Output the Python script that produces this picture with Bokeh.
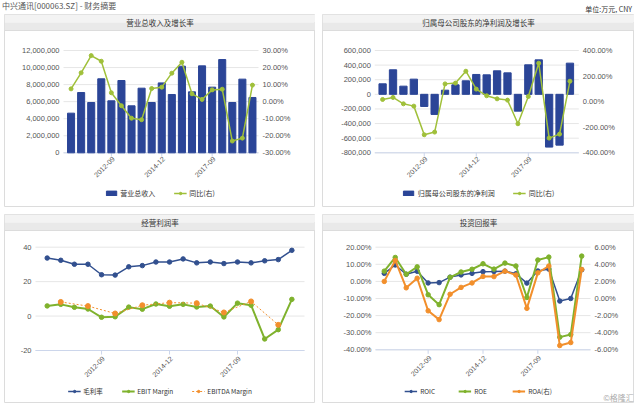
import math
import numpy as np
from bokeh.plotting import figure
from bokeh.models import Range1d, Legend, LegendItem, Div, ColumnDataSource, Spacer
from bokeh.layouts import column, row
from bokeh.embed import file_html
from bokeh.resources import INLINE
from bokeh.core.properties import value

# ---------------- data ----------------
periods = ["2010-09", "2010-12", "2011-09", "2011-12", "2012-09", "2012-12", "2013-09",
           "2013-12", "2014-09", "2014-12", "2015-09", "2015-12", "2016-09", "2016-12",
           "2017-09", "2017-12", "2018-09", "2018-12", "2019-09"]
shown_labels = ["2012-09", "2014-12", "2017-09"]

revenue = [4650000, 7070000, 5900000, 8680000, 6100000, 8480000, 5510000, 7580000,
           5900000, 8200000, 6840000, 10160000, 7150000, 10200000, 7700000, 10940000,
           5900000, 8640000, 6490000]
revenue_yoy = [7.5, 16.9, 27.0, 23.7, 5.2, -2.4, -9.7, -10.6, 7.7, 8.5, 16.7, 23.1,
               4.6, 1.3, 6.9, 7.3, -23.1, -21.4, 9.7]

net_profit = [144000, 336000, 112000, 208000, -166000, -275000, 57000, 130000, 185000,
              272000, 267000, 322000, 294000, -230000, 404000, 472000, -722000, -695000,
              427000]
profit_yoy = [17, 33, -17, -35, -259, -238, 139, 145, 238, 98, 46, 22, 12, -173, 40,
              301, -285, -254, 160]

gross_margin = [33.7, 32.4, 30.1, 30.1, 24.0, 23.8, 28.6, 29.3, 31.4, 31.4, 33.2, 30.9,
                31.4, 30.5, 31.4, 30.9, 32.1, 32.8, 38.2]
ebit_margin = [5.9, 6.8, 5.1, 4.1, -0.7, -0.4, 5.2, 4.0, 7.0, 5.7, 6.8, 5.3, 5.8, -0.5,
               7.5, 6.3, -13.3, -7.9, 9.7]
ebitda_margin = [None, 8.2, None, 5.8, None, 1.5, None, 6.3, None, 7.8, None, 7.5, None,
                 2.1, None, 8.5, None, -5.1, None]

roic = [4.7, 9.6, 4.2, 5.9, -0.9, -0.7, 2.5, 3.8, 4.7, 5.7, 5.8, 6.0, 4.5, -1.0, 6.1,
        7.2, -11.5, -10.0, 6.8]
roe = [6.0, 14.0, 4.2, 8.5, -7.8, -13.6, 2.4, 5.5, 7.1, 10.3, 7.2, 10.7, 9.0, -9.4,
       12.5, 14.2, -32.6, -31.1, 14.8]
roa = [2.0, 4.45, 1.25, 2.37, -1.44, -2.47, 0.5, 1.3, 1.82, 2.58, 2.56, 3.2, 2.75, -1.15,
       3.0, 3.8, -5.5, -5.15, 3.4]

# ---------------- style ----------------
CJK = "Noto Sans CJK SC"
NUM = "Liberation Sans"
NAVY = "#2b4597"
OLIVE = "#a0c03a"
GREEN = "#7fb22d"
BLUE = "#32508f"
ORANGE = "#f28f2c"
GRID = "#e6e6e6"
AXC = "#ccd6eb"
BORDER = "#dcdcdc"

idx = list(range(len(periods)))
label_idx = [periods.index(s) for s in shown_labels]


class Panel:
    """A panel whose canvas is its frame; the plot box (L,T,R,B in px) maps the data ranges."""

    def __init__(self, W, H, L, T, R, B, xr, yr, title, rr=None):
        self.x0, self.x1 = xr
        self.y0, self.y1 = yr
        self.sx = (self.x1 - self.x0) / (R - L)
        self.sy = (self.y1 - self.y0) / (B - T)
        self.T = T
        xrange = Range1d(self.x0 - L * self.sx, self.x1 + (W - R) * self.sx)
        yrange = Range1d(self.y0 - (H - B) * self.sy, self.y1 + T * self.sy)
        p = figure(width=W, height=H, x_range=xrange, y_range=yrange, x_axis_type=None,
                   y_axis_type=None, output_backend="svg", toolbar_location=None,
                   title=None, min_border=0)
        p.outline_line_color = BORDER
        p.background_fill_color = "white"
        p.border_fill_color = "white"
        if rr is not None:
            r0, r1 = rr
            rs = (r1 - r0) / (B - T)
            p.extra_y_ranges = {"r": Range1d(r0 - (H - B) * rs, r1 + T * rs)}
        self.p = p
        self.xs, self.xe = xrange.start, xrange.end
        self.ytop = yrange.end
        # header bar
        hb = self.ypx(16)
        p.quad(left=[self.xs], right=[self.xe], bottom=[self.ypx(8)], top=[self.ytop],
               fill_color="#f3f3f3", line_color=None)
        p.quad(left=[self.xs], right=[self.xe], bottom=[hb], top=[self.ypx(8)],
               fill_color="#e9e9e9", line_color=None)
        p.segment(x0=[self.xs], x1=[self.xe], y0=[hb], y1=[hb], color=BORDER, line_width=1)
        p.text(x=[(self.xs + self.xe) / 2], y=[self.ypx(8)], text=[title],
               text_font=value(CJK), text_font_size=value("7.5px"), text_color="#333",
               text_align="center", text_baseline="middle")

    def ypx(self, py):
        return self.y1 - (py - self.T) * self.sy

    def left_axis(self, ticks, labels):
        p = self.p
        p.segment(x0=[self.x0] * len(ticks), x1=[self.x1] * len(ticks), y0=ticks, y1=ticks,
                  color=GRID, line_width=1)
        p.text(x=[self.x0] * len(ticks), y=ticks, text=labels, x_offset=-4,
               text_font=value(NUM), text_font_size=value("7.5px"), text_color="#555",
               text_align="right", text_baseline="middle")

    def right_axis(self, ticks, labels):
        self.p.text(x=[self.x1] * len(ticks), y=ticks, text=labels, x_offset=4,
                    y_range_name="r", text_font=value(NUM), text_font_size=value("7.5px"),
                    text_color="#555", text_align="left", text_baseline="middle")

    def x_axis(self, line=True, yoff=5):
        p = self.p
        if line:
            p.segment(x0=[self.x0], x1=[self.x1], y0=[self.y0], y1=[self.y0], color=AXC)
            p.ray(x=label_idx, y=[self.y0] * len(label_idx), length=4, length_units="screen",
                  angle=-math.pi / 2, color=AXC)
        p.text(x=label_idx, y=[self.y0] * len(label_idx), text=[periods[i] for i in label_idx],
               angle=math.pi / 4, x_offset=2, y_offset=yoff, text_font=value(NUM),
               text_font_size=value("7px"), text_color="#555", text_align="right",
               text_baseline="middle")

    def legend(self, items, fs, margin, spacing=18):
        lg = Legend(items=items, orientation="horizontal", location="bottom_center",
                    label_text_font=CJK, label_text_font_size=fs, label_text_color="#333",
                    glyph_width=13, glyph_height=6, label_height=8, label_standoff=3,
                    spacing=spacing, padding=2, margin=margin, border_line_color=None,
                    background_fill_alpha=0)
        self.p.add_layout(lg, "center")


def line_pts(p, xs, ys, color, rname="default", width=1.5, dash="solid", size=4.5):
    src = ColumnDataSource(dict(x=xs, y=ys))
    l = p.line("x", "y", source=src, color=color, line_width=width, line_dash=dash,
               y_range_name=rname)
    s = p.scatter("x", "y", source=src, color=color, size=size, y_range_name=rname)
    return [l, s]


def ticks_between(lo, hi, step):
    return list(np.arange(lo, hi + step / 2, step))


def pct(ts):
    return [f"{t:.2f}%" for t in ts]


# ---------------- panel 1 ----------------
P1 = Panel(311, 193, 59, 36, 254, 138.3, (-0.75, 18.6), (0, 12000000), "营业总收入及增长率",
           rr=(-30, 30))
t = ticks_between(0, 12000000, 2000000)
P1.left_axis(t, [f"{v:,.0f}" for v in t])
t = ticks_between(-30, 30, 10)
P1.right_axis(t, pct(t))
P1.x_axis(yoff=5)
b1 = P1.p.vbar(x=idx, top=revenue, width=0.7, color=NAVY)
g1 = line_pts(P1.p, idx, revenue_yoy, OLIVE, "r", size=4)
P1.legend([LegendItem(label="营业总收入", renderers=[b1]),
           LegendItem(label="同比(右)", renderers=g1)], "7px", 9)

# ---------------- panel 2 ----------------
P2 = Panel(312, 193, 52.3, 36, 256.3, 138.3, (-0.75, 18.85), (-800000, 600000),
           "归属母公司股东的净利润及增长率", rr=(-400, 400))
t = ticks_between(-800000, 600000, 200000)
P2.left_axis(t, [f"{v:,.0f}" for v in t])
t = ticks_between(-400, 400, 200)
P2.right_axis(t, pct(t))
P2.x_axis(yoff=5)
b2 = P2.p.vbar(x=idx, top=net_profit, width=0.7, color=NAVY)
g2 = line_pts(P2.p, idx, profit_yoy, OLIVE, "r", size=4)
P2.legend([LegendItem(label="归属母公司股东的净利润", renderers=[b2]),
           LegendItem(label="同比(右)", renderers=g2)], "7px", 9)

# ---------------- panel 3 ----------------
P3 = Panel(311, 189, 31, 32.7, 300, 136, (-0.86, 18.93), (-20, 40), "经营利润率")
t = ticks_between(-20, 40, 20)
P3.left_axis(t, [f"{v:.0f}" for v in t])
P3.x_axis(yoff=7)
r_gm = line_pts(P3.p, idx, gross_margin, BLUE)
r_ebit = line_pts(P3.p, idx, ebit_margin, GREEN, width=2)
ex = [i for i, v in enumerate(ebitda_margin) if v is not None]
ey = [v for v in ebitda_margin if v is not None]
r_ebitda = line_pts(P3.p, ex, ey, ORANGE, width=1, dash="2 2", size=5)
P3.legend([LegendItem(label="毛利率", renderers=r_gm),
           LegendItem(label="EBIT Margin", renderers=r_ebit),
           LegendItem(label="EBITDA Margin", renderers=r_ebitda)], "6.5px", 7)

# ---------------- panel 4 ----------------
P4 = Panel(312, 189, 53, 32.7, 268, 135.3, (-0.8, 18.8), (-40, 20), "投资回报率",
           rr=(-6, 6))
t = ticks_between(-40, 20, 10)
P4.left_axis(t, pct(t))
t = ticks_between(-6, 6, 2)
P4.right_axis(t, pct(t))
P4.x_axis(yoff=7)
r_roic = line_pts(P4.p, idx, roic, BLUE)
r_roe = line_pts(P4.p, idx, roe, GREEN, width=2)
r_roa = line_pts(P4.p, idx, roa, ORANGE, "r", width=2)
P4.legend([LegendItem(label="ROIC", renderers=r_roic),
           LegendItem(label="ROE", renderers=r_roe),
           LegendItem(label="ROA(右)", renderers=r_roa)], "6.5px", 7)
P4.p.text(x=[P4.xe], y=[P4.ypx(183)], text=["©格隆汇"], x_offset=-16,
          text_font=value(CJK), text_font_size=value("8px"), text_color="#aaaaaa",
          text_align="center", text_baseline="middle")

# ---------------- layout ----------------
top_div = Div(
    text=('<div style="position:relative;width:640px;height:14px;'
          'font-family:\'Noto Sans CJK SC\';">'
          '<span style="position:absolute;left:2px;top:0px;font-size:8px;line-height:12px;'
          'color:#555;white-space:nowrap;">中兴通讯[000063.SZ] - 财务摘要</span>'
          '<span style="position:absolute;right:8px;top:3px;font-size:7px;line-height:12px;'
          'color:#333;white-space:nowrap;">单位:万元, CNY</span></div>'),
    width=640, height=14, margin=0)

row1 = row(Spacer(width=4), P1.p, Spacer(width=7), P2.p)
row2 = row(Spacer(width=4), P3.p, Spacer(width=7), P4.p)
layout = column(top_div, row1, Spacer(height=7), row2)

open("out.html", "w").write(file_html(layout, INLINE))
